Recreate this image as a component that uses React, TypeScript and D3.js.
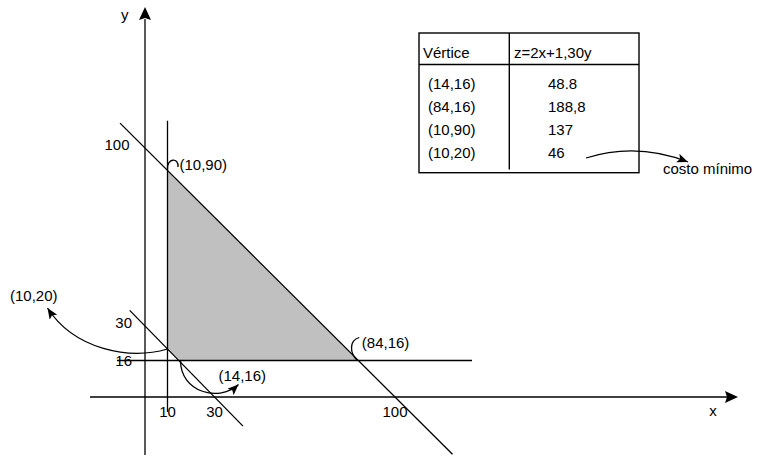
import React from "react";
import * as d3 from "d3";

// ---- data ----
const xTickValues = [10, 30, 100];
const yTickValues = [100, 30, 16];
const vertexLabels = ["(14,16)", "(84,16)", "(10,90)", "(10,20)"];
const zValues = ["48.8", "188,8", "137", "46"];
const tableHeaders = ["Vértice", "z=2x+1,30y"];
const feasibleRegion: [number, number][] = [
  [10, 90],
  [84, 16],
  [14, 16],
  [10, 20],
];
const sumConstraints = [30, 100]; // x + y = c
const xBound = 10; // x = 10
const yBound = 16; // y = 16
const minCostLabel = "costo mínimo";

// ---- layout ----
const W = 758;
const H = 456;
const FONT = "'Liberation Sans', Arial, Helvetica, sans-serif";
const FS = 15;

// hand-drawn sketch: piecewise linear scales
const x = d3
  .scaleLinear()
  .domain([0, 10, 14, 30, 84, 100])
  .range([145, 167.5, 179.5, 214.5, 357.3, 395]);
const y = d3
  .scaleLinear()
  .domain([0, 16, 20, 30, 90, 100])
  .range([397, 360.5, 349, 326, 170, 148]);

const lineExt: Record<number, [number, number]> = {
  30: [-0.22, 1.41],
  100: [-0.1, 1.23],
};

const stroke = "#000";
const sw = 1.3;

export default function App() {
  const x0 = x(0);
  const y0 = y(0);

  const poly = d3.line()(feasibleRegion.map(([a, b]) => [x(a), y(b)] as [number, number])) + "Z";

  const sumLines = sumConstraints.map((c) => {
    const p0 = [x(0), y(c)];
    const p1 = [x(c), y(0)];
    const [t0, t1] = lineExt[c];
    const dx = p1[0] - p0[0];
    const dy = p1[1] - p0[1];
    return {
      c,
      x1: p0[0] + t0 * dx,
      y1: p0[1] + t0 * dy,
      x2: p0[0] + t1 * dx,
      y2: p0[1] + t1 * dy,
    };
  });

  const P = (v: [number, number]) => ({ px: x(v[0]), py: y(v[1]) });
  const v1420 = P([10, 20]);
  const v1416 = P([14, 16]);
  const v1090 = P([10, 90]);
  const v8416 = P([84, 16]);

  const curveA = `M${v1420.px},${v1420.py} C${v1420.px - 38},${v1420.py + 11} ${v1420.px - 93},${v1420.py + 1} ${v1420.px - 120},${v1420.py - 41}`;
  const curveB = `M${v1416.px + 1},${v1416.py} C${v1416.px + 1},${v1416.py + 32} ${v1416.px + 40},${v1416.py + 42} ${v1416.px + 59},${v1416.py + 24}`;
  const curveC = `M${v1090.px},${v1090.py} C${v1090.px - 1.5},${v1090.py - 12} ${v1090.px + 11.5},${v1090.py - 13} ${v1090.px + 10.5},${v1090.py - 3}`;
  const curveD = `M${v8416.px},${v8416.py} C${v8416.px - 8},${v8416.py - 8} ${v8416.px - 8},${v8416.py - 20} ${v8416.px + 2},${v8416.py - 23}`;
  const curveE = `M586,158 Q637,142 688,162`;

  // table
  const tX0 = 419, tX1 = 639, tY0 = 33, tY1 = 172.7, tHead = 64.5, tDiv = 509.3;
  const rowY = d3.scaleLinear().domain([0, 1]).range([88.5, 111.8]);

  const textStyle = { fontFamily: FONT, fontSize: FS, fill: "#000" } as const;

  return (
    <svg
      width={W}
      height={H}
      viewBox={`0 0 ${W} ${H}`}
      style={{ position: "absolute", left: 0, top: 0, background: "#fff" }}
    >
      <defs>
        <marker
          id="ah"
          markerUnits="userSpaceOnUse"
          markerWidth={12}
          markerHeight={10}
          refX={11}
          refY={4.5}
          orient="auto"
        >
          <path d="M0,0 L11,4.5 L0,9 L2.5,4.5 Z" fill="#000" />
        </marker>
      </defs>

      {/* feasible region */}
      <path d={poly} fill="#c0c0c0" stroke="none" />

      {/* axes */}
      <line x1={x0} y1={455} x2={x0} y2={19} stroke={stroke} strokeWidth={sw} />
      <path d={`M${x0},7 L${x0 + 6},20 L${x0},18 L${x0 - 6},20 Z`} fill="#000" />
      <line x1={90} y1={y0} x2={727} y2={y0} stroke={stroke} strokeWidth={sw} />
      <path d={`M738,${y0} L725,${y0 + 6} L727,${y0} L725,${y0 - 6} Z`} fill="#000" />

      {/* constraint lines */}
      <line x1={x(xBound)} y1={120.7} x2={x(xBound)} y2={412} stroke={stroke} strokeWidth={sw} />
      <line x1={117} y1={y(yBound)} x2={472} y2={y(yBound)} stroke={stroke} strokeWidth={sw} />
      {sumLines.map((l) => (
        <line key={l.c} x1={l.x1} y1={l.y1} x2={l.x2} y2={l.y2} stroke={stroke} strokeWidth={sw} />
      ))}

      {/* tick labels */}
      {xTickValues.map((t) => (
        <text key={"x" + t} x={x(t)} y={417} textAnchor="middle" style={textStyle}>
          {t}
        </text>
      ))}
      {yTickValues.map((t) => (
        <text
          key={"y" + t}
          x={t === 100 ? 129.5 : 132}
          y={t === 16 ? y(t) + 5 : y(t) + 1.5}
          textAnchor="end"
          style={textStyle}
        >
          {t}
        </text>
      ))}
      <text x={121} y={20} style={textStyle}>y</text>
      <text x={713} y={416} textAnchor="middle" style={textStyle}>x</text>

      {/* annotation curves */}
      <path d={curveA} fill="none" stroke={stroke} strokeWidth={sw} markerEnd="url(#ah)" />
      <path d={curveB} fill="none" stroke={stroke} strokeWidth={sw} markerEnd="url(#ah)" />
      <path d={curveC} fill="none" stroke={stroke} strokeWidth={sw} />
      <path d={curveD} fill="none" stroke={stroke} strokeWidth={sw} />

      {/* vertex labels */}
      <text x={v1090.px + 12} y={v1090.py} style={textStyle}>{vertexLabels[2]}</text>
      <text x={v8416.px + 4.5} y={v8416.py - 12.5} style={textStyle}>{vertexLabels[1]}</text>
      <text x={218.5} y={381} style={textStyle}>{vertexLabels[0]}</text>
      <text x={10} y={301} style={textStyle}>{vertexLabels[3]}</text>

      {/* table */}
      <rect x={tX0} y={tY0} width={tX1 - tX0} height={tY1 - tY0} fill="none" stroke={stroke} strokeWidth={1.4} />
      <line x1={tX0} y1={tHead} x2={tX1} y2={tHead} stroke={stroke} strokeWidth={1.4} />
      <line x1={tDiv} y1={tY0} x2={tDiv} y2={169.5} stroke={stroke} strokeWidth={1.4} />
      <text x={423} y={58.3} style={textStyle}>{tableHeaders[0]}</text>
      <text x={514} y={58.3} style={textStyle}>{tableHeaders[1]}</text>
      {vertexLabels.map((v, i) => (
        <g key={v}>
          <text x={428} y={rowY(i)} style={textStyle}>{v}</text>
          <text x={548} y={rowY(i)} style={textStyle}>{zValues[i]}</text>
        </g>
      ))}

      {/* min cost annotation */}
      <path d={curveE} fill="none" stroke={stroke} strokeWidth={sw} markerEnd="url(#ah)" />
      <text x={663} y={174} style={{ ...textStyle, fontSize: 15 }}>{minCostLabel}</text>
    </svg>
  );
}
